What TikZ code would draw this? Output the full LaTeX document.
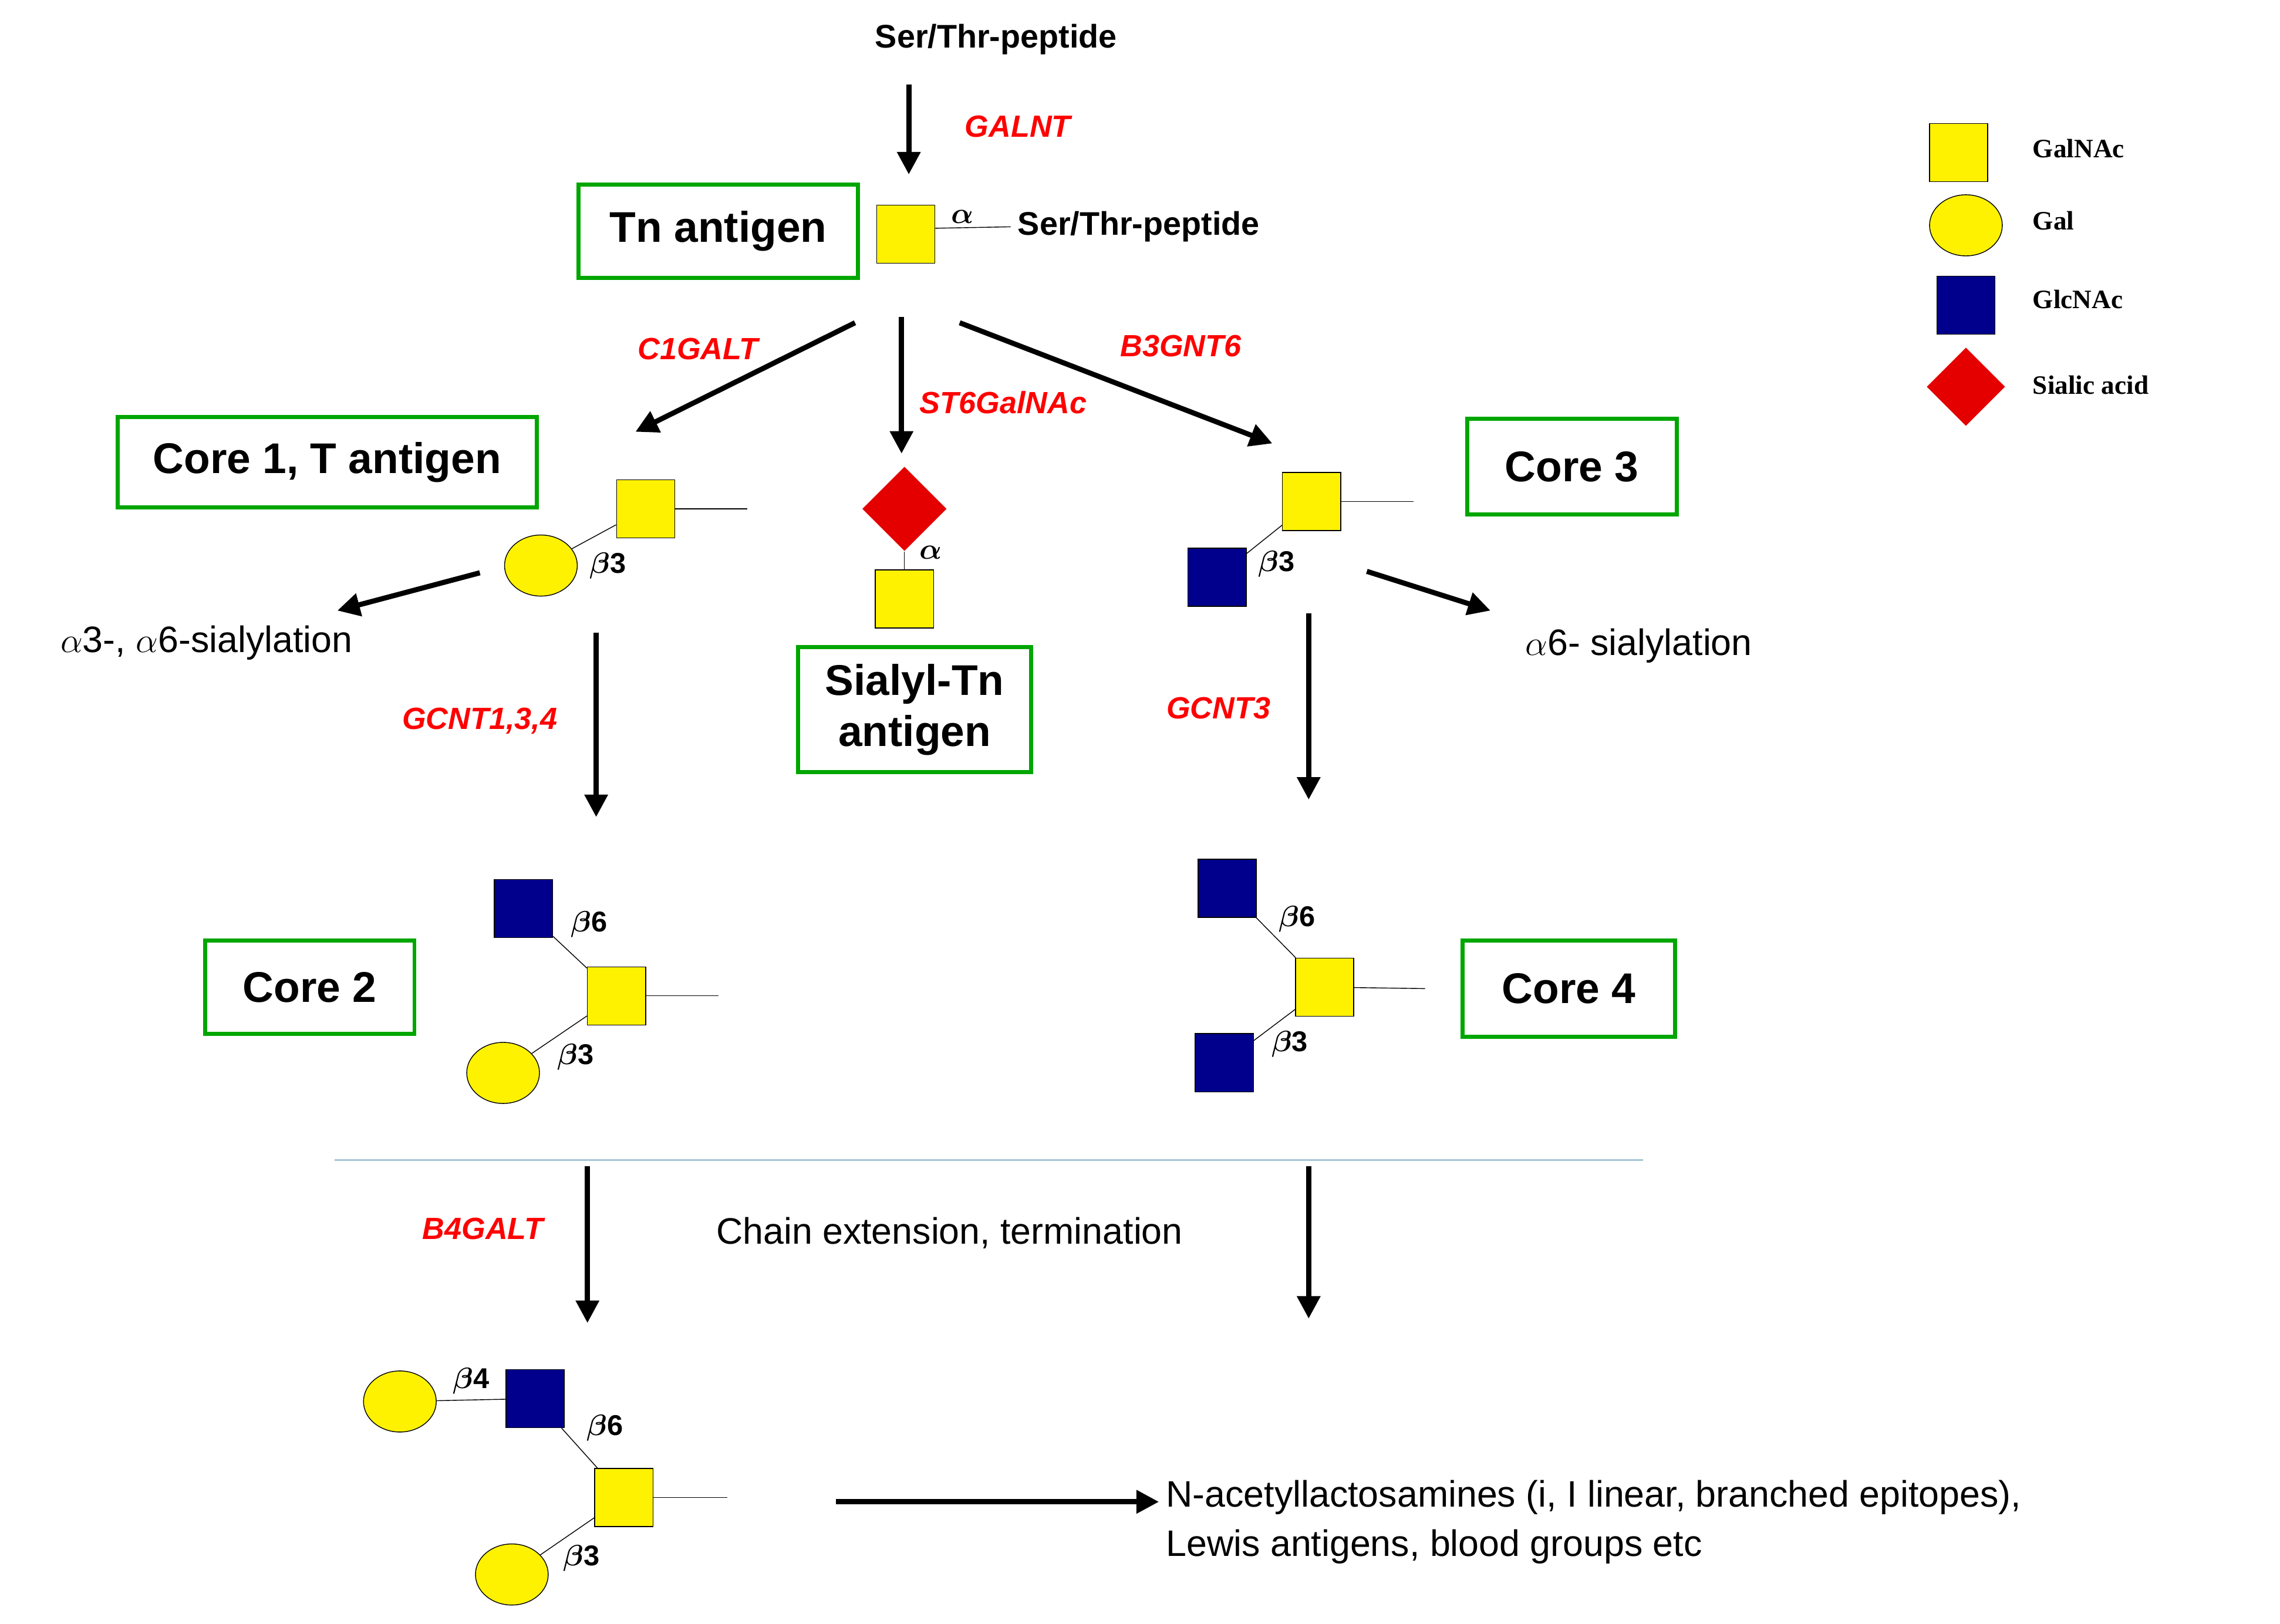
\documentclass[tikz,border=0pt]{standalone}
\usepackage{amsmath}
\usepackage{fontspec}
\setmainfont{Liberation Sans}
\newfontfamily\legendfont{Liberation Serif}
\usetikzlibrary{arrows.meta,shapes.geometric}
\tikzset{
    galnac/.style = {draw, fill=yellow, minimum size=1cm, inner sep=0pt},
    glcnac/.style = {draw, fill=blue!55!black, minimum size=1cm, inner sep=0pt},
    gal/.style = {draw, fill=yellow, ellipse, minimum width=1.25cm, minimum height=1.05cm, inner sep=0pt},
    sia/.style = {fill=red!90!black, diamond, minimum size=1.45cm, inner sep=0pt},
    core box/.style = {draw=green!65!black, line width=2pt, font=\fontsize{21}{25}\selectfont\bfseries, align=left, inner sep=0pt},
    enzyme/.style = {text=red, font=\fontsize{15}{18}\selectfont\itshape\bfseries},
    bond/.style = {font=\fontsize{14}{16}\selectfont\bfseries},
    plain/.style = {font=\fontsize{18}{24}\selectfont},
    pathway/.style = {line width=2.5pt, -{Triangle[length=11pt,width=11pt]}},
    link/.style = {thin},
    legend/.style = {font=\legendfont\fontsize{13}{15}\selectfont\bfseries, anchor=west},
}
\begin{document}
\begin{tikzpicture}[x=0.025cm,y=-0.025cm]
    \useasboundingbox (0,0) rectangle (1568,1117);

    % start
    \node[font=\fontsize{16}{18}\selectfont\bfseries] (pep) at (685,27) {Ser/Thr-peptide};
    \coordinate (galntEnd) at (625,120);
    \draw[pathway] (625,58) -- (galntEnd);
    \node[enzyme] (galnt) at (700,87) {GALNT};

    % Tn antigen
    \node[core box, minimum width=4.8cm, minimum height=1.6cm, align=center] (tnBox) at (494,159) {Tn antigen};
    \node[galnac] (tn) at (623,161) {};
    \node[font=\fontsize{16}{18}\selectfont\bfseries, anchor=west] (tnPep) at (695,156) {Ser/Thr-peptide};
    \draw[link] (tn.east |- 0,157) -- (tnPep.west);
    \node[bond] at (662,149) {$\boldsymbol\alpha$};

    % branches from Tn
    \coordinate (c1Start) at (588,222); \coordinate (c1End) at (437,297);
    \coordinate (stStart) at (620,218); \coordinate (stEnd) at (620,312);
    \coordinate (c3Start) at (660,222); \coordinate (c3End) at (875,305);
    \draw[pathway] (c1Start) -- (c1End);
    \draw[pathway] (stStart) -- (stEnd);
    \draw[pathway] (c3Start) -- (c3End);
    \node[enzyme] at (480,240) {C1GALT};
    \node[enzyme] at (690,277) {ST6GalNAc};
    \node[enzyme] at (812,238) {B3GNT6};

    % core 1
    \node[core box, minimum width=7.2cm, minimum height=1.55cm, align=center] (c1Box) at (225,318) {Core 1, T antigen};
    \node[galnac] (c1a) at (444,350) {};
    \node[gal] (c1b) at (372,389) {};
    \coordinate (c1tail) at (514,350);
    \draw[link] (c1a) -- (c1tail);
    \draw[link] (c1b) -- (c1a);
    \node[bond] at (418,389) {$\boldsymbol\beta$3};
    \coordinate (siaStart) at (330,394); \coordinate (siaEnd) at (232,420);
    \draw[pathway] (siaStart) -- (siaEnd);
    \node[plain] at (142,442) {$\alpha$3-, $\alpha$6-sialylation};
    \draw[pathway] (410,435) -- (410,562);
    \node[enzyme] at (330,496) {GCNT1,3,4};

    % sialyl-Tn
    \node[sia] (stn1) at (622,350) {};
    \node[galnac] (stn2) at (622,412) {};
    \draw[link] (stn1) -- (stn2);
    \node[bond] at (640,380) {$\boldsymbol\alpha$};
    \node[core box, minimum width=4cm, minimum height=2.15cm, align=center] (stnBox) at (629,488) {Sialyl-Tn\\antigen};

    % core 3
    \node[galnac] (c3a) at (902,345) {};
    \node[glcnac] (c3b) at (837,397) {};
    \coordinate (c3tail) at (972,345);
    \draw[link] (c3a) -- (c3tail);
    \draw[link] (c3b) -- (c3a);
    \node[bond] at (878,388) {$\boldsymbol\beta$3};
    \node[core box, minimum width=3.6cm, minimum height=1.65cm, align=center] (c3Box) at (1081,321) {Core 3};
    \draw[pathway] (940,393) -- (1025,420);
    \node[plain] at (1127,444) {$\alpha$6- sialylation};
    \draw[pathway] (900,422) -- (900,550);
    \node[enzyme] at (838,487) {GCNT3};

    % core 2
    \node[core box, minimum width=3.6cm, minimum height=1.6cm, align=center] (c2Box) at (213,679) {Core 2};
    \node[glcnac] (c2b) at (360,625) {};
    \node[galnac] (c2a) at (424,685) {};
    \node[gal] (c2c) at (346,738) {};
    \coordinate (c2tail) at (494,685);
    \draw[link] (c2a) -- (c2tail);
    \draw[link] (c2b) -- (c2a);
    \draw[link] (c2c) -- (c2a);
    \node[bond] at (405,636) {$\boldsymbol\beta$6};
    \node[bond] at (396,727) {$\boldsymbol\beta$3};

    % core 4
    \node[glcnac] (c4b) at (844,611) {};
    \node[galnac] (c4a) at (911,679) {};
    \node[glcnac] (c4c) at (842,731) {};
    \coordinate (c4tail) at (980,680);
    \draw[link] (c4a) -- (c4tail);
    \draw[link] (c4b) -- (c4a);
    \draw[link] (c4c) -- (c4a);
    \node[bond] at (892,632) {$\boldsymbol\beta$6};
    \node[bond] at (887,718) {$\boldsymbol\beta$3};
    \node[core box, minimum width=3.65cm, minimum height=1.65cm, align=center] (c4Box) at (1079,680) {Core 4};

    % separator
    \draw[cyan!40!gray!60, line width=0.8pt] (230,798) -- (1130,798);
    \draw[pathway] (404,802) -- (404,910);
    \draw[pathway] (900,802) -- (900,907);
    \node[enzyme] at (332,845) {B4GALT};
    \node[plain] at (653,848) {Chain extension, termination};

    % extended core 2
    \node[gal] (exGal) at (275,964) {};
    \node[glcnac] (exGlc) at (368,962) {};
    \node[galnac] (exA) at (429,1030) {};
    \node[gal] (exGal2) at (352,1083) {};
    \coordinate (extail) at (500,1030);
    \draw[link] (exGal) -- (exGlc);
    \draw[link] (exGlc) -- (exA);
    \draw[link] (exGal2) -- (exA);
    \draw[link] (exA) -- (extail);
    \node[bond] at (324,950) {$\boldsymbol\beta$4};
    \node[bond] at (416,982) {$\boldsymbol\beta$6};
    \node[bond] at (400,1072) {$\boldsymbol\beta$3};
    \node[plain, align=left, anchor=west] (final) at (797,1047) {N-acetyllactosamines (i, I linear, branched epitopes),\\Lewis antigens, blood groups etc};
    \draw[pathway] (575,1033) -- (final.west |- 0,1033);

    % legend
    \node[galnac] (lgA) at (1347,105) {};
    \node[legend] at (1393,102) {GalNAc};
    \node[gal] (lgB) at (1352,155) {};
    \node[legend] at (1393,152) {Gal};
    \node[glcnac] (lgC) at (1352,210) {};
    \node[legend] at (1393,206) {GlcNAc};
    \node[sia, minimum size=1.35cm] (lgD) at (1352,266) {};
    \node[legend] at (1393,265) {Sialic acid};
\end{tikzpicture}
\end{document}
